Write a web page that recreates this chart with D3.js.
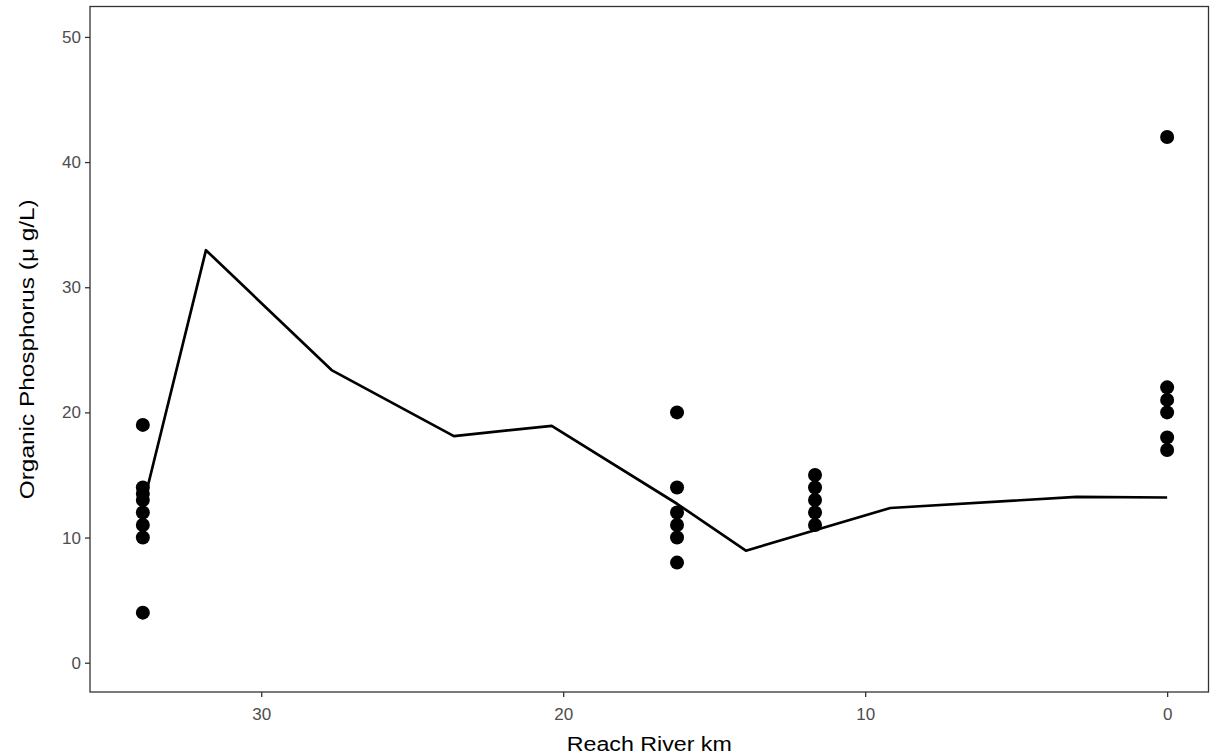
<!DOCTYPE html>
<html>
<head>
<meta charset="utf-8">
<script src="https://cdn.jsdelivr.net/npm/d3@7"></script>
<style>
  html, body { margin: 0; padding: 0; background: #fff; }
  svg { display: block; }
  text { font-family: "Liberation Sans", Arial, sans-serif; }
</style>
</head>
<body>
<svg id="chart" width="1210" height="755"></svg>
<script>
// ---- data ----
const siteKm = [33.92, 16.23, 11.66, 0];
const siteValues = [
  [19, 14, 13.5, 13, 12, 11, 10, 4],
  [20, 14, 12, 11, 10, 8],
  [15, 14, 13, 12, 11],
  [42, 22, 21, 20, 18, 17]
];
const lineKm  = [33.92, 31.83, 27.67, 23.62, 20.38, 16.23, 13.95, 9.17, 3.0, 0];
const lineVal = [12.5, 32.96, 23.38, 18.1, 18.93, 12.7, 8.95, 12.36, 13.25, 13.2];
const xTicks = [30, 20, 10, 0];
const yTicks = [0, 10, 20, 30, 40, 50];
const xTitle = "Reach River km";
const yTitle = "Organic Phosphorus (\u03bc g/L)";

// ---- layout ----
const panel = { left: 90, right: 1208.5, top: 6.5, bottom: 692 };
const svg = d3.select("#chart");

const x = d3.scaleLinear().domain([35.67, -1.37]).range([panel.left, panel.right]);
const y = d3.scaleLinear().domain([-2.34, 52.43]).range([panel.bottom, panel.top]);

const points = [];
siteKm.forEach((km, i) => siteValues[i].forEach(v => points.push({ km, v })));
const lineData = lineKm.map((km, i) => ({ km, v: lineVal[i] }));

// line
svg.append("path")
  .datum(lineData)
  .attr("fill", "none")
  .attr("stroke", "#000")
  .attr("stroke-width", 2.7)
  .attr("stroke-linejoin", "round")
  .attr("d", d3.line().x(d => x(d.km)).y(d => y(d.v)));

// points
svg.append("g").selectAll("circle").data(points).join("circle")
  .attr("cx", d => x(d.km))
  .attr("cy", d => y(d.v))
  .attr("r", 7)
  .attr("fill", "#000");

// panel border
svg.append("rect")
  .attr("x", panel.left).attr("y", panel.top)
  .attr("width", panel.right - panel.left)
  .attr("height", panel.bottom - panel.top)
  .attr("fill", "none").attr("stroke", "#333").attr("stroke-width", 1.3);

// axes
const xAxis = svg.append("g")
  .attr("transform", `translate(0,${panel.bottom})`)
  .call(d3.axisBottom(x).tickValues(xTicks).tickSize(5).tickPadding(11).tickFormat(d3.format("d")));
const yAxis = svg.append("g")
  .attr("transform", `translate(${panel.left},0)`)
  .call(d3.axisLeft(y).tickValues(yTicks).tickSize(5).tickPadding(4).tickFormat(d3.format("d")));

[xAxis, yAxis].forEach(g => {
  g.select(".domain").remove();
  g.selectAll(".tick line").attr("stroke", "#333").attr("stroke-width", 1.3);
  g.selectAll(".tick text")
    .attr("fill", "#4D4D4D")
    .style("font-size", "17px")
    .style("font-family", "'Liberation Sans', Arial, sans-serif");
});

// axis titles
svg.append("text")
  .attr("x", (panel.left + panel.right) / 2)
  .attr("y", 751)
  .attr("text-anchor", "middle")
  .attr("fill", "#000")
  .style("font-size", "20px")
  .attr("textLength", 165)
  .attr("lengthAdjust", "spacingAndGlyphs")
  .text(xTitle);

svg.append("text")
  .attr("transform", `translate(34,${(panel.top + panel.bottom) / 2}) rotate(-90)`)
  .attr("text-anchor", "middle")
  .attr("fill", "#000")
  .style("font-size", "20px")
  .attr("textLength", 300)
  .attr("lengthAdjust", "spacingAndGlyphs")
  .text(yTitle);
</script>
</body>
</html>
